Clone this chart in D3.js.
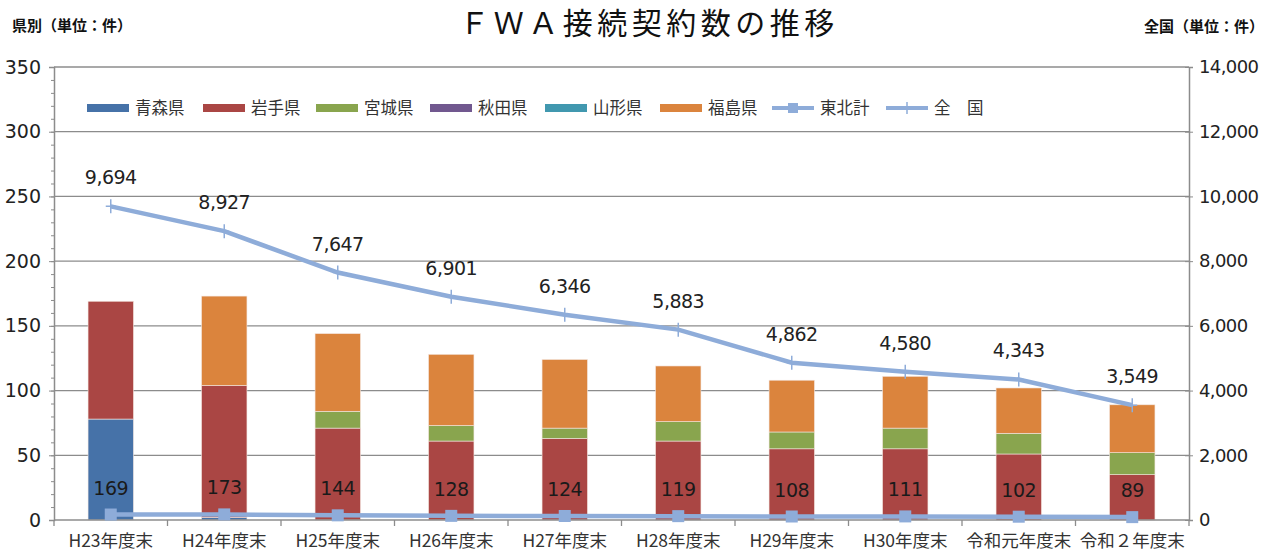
<!DOCTYPE html>
<html>
<head>
<meta charset="utf-8">
<script src="https://cdn.jsdelivr.net/npm/d3@7"></script>
<style>
  body { margin: 0; background: #fff; }
  svg { font-family: "Noto Sans CJK JP", "Noto Sans", sans-serif; }
  .tick text { fill: #222; }
</style>
</head>
<body>
<svg width="1274" height="552"></svg>
<script>
// categories and values
var years = ["H23年度末", "H24年度末", "H25年度末", "H26年度末", "H27年度末",
             "H28年度末", "H29年度末", "H30年度末", "令和元年度末", "令和２年度末"];
var aomori    = [78, 2, 0, 0, 0, 0, 0, 0, 0, 0];
var iwate     = [91, 102, 71, 61, 63, 61, 55, 55, 51, 35];
var miyagi    = [0, 0, 13, 12, 8, 15, 13, 16, 16, 17];
var akita     = [0, 0, 0, 0, 0, 0, 0, 0, 0, 0];
var yamagata  = [0, 0, 0, 0, 0, 0, 0, 0, 0, 0];
var fukushima = [0, 69, 60, 55, 53, 43, 40, 40, 35, 37];
var tohoku    = [169, 173, 144, 128, 124, 119, 108, 111, 102, 89];
var zenkoku   = [9694, 8927, 7647, 6901, 6346, 5883, 4862, 4580, 4343, 3549];
var leftTicks = [0, 50, 100, 150, 200, 250, 300, 350];
var rightTicks = [0, 2000, 4000, 6000, 8000, 10000, 12000, 14000];

var prefs = [
  {key: "青森県", vals: aomori,    color: "#4672a8"},
  {key: "岩手県", vals: iwate,     color: "#aa4644"},
  {key: "宮城県", vals: miyagi,    color: "#89a54e"},
  {key: "秋田県", vals: akita,     color: "#71588f"},
  {key: "山形県", vals: yamagata,  color: "#4198af"},
  {key: "福島県", vals: fukushima, color: "#db843d"}
];
var lineColor = "#8eacd9";

var svg = d3.select("svg");
var plotL = 54, plotR = 1189, plotT = 67, plotB = 520;

// build rows for the stack
var rows = years.map(function(y, i) {
  var r = {year: y};
  prefs.forEach(function(p) { r[p.key] = p.vals[i]; });
  return r;
});
var stack = d3.stack().keys(prefs.map(function(p) { return p.key; }))(rows);

var x = d3.scaleBand().domain(years).range([plotL, plotR]).paddingInner(0.6).paddingOuter(0.3);
var yL = d3.scaleLinear().domain([0, 350]).range([plotB, plotT]);
var yR = d3.scaleLinear().domain([0, 14000]).range([plotB, plotT]);
var cx = function(i) { return x(years[i]) + x.bandwidth() / 2; };

// grid lines
svg.append("g").selectAll("line")
  .data(leftTicks.slice(1))
  .enter().append("line")
  .attr("x1", plotL).attr("x2", plotR)
  .attr("y1", function(d) { return yL(d); })
  .attr("y2", function(d) { return yL(d); })
  .attr("stroke", "#8c8c8c").attr("stroke-width", 1.3);

// stacked bars
svg.append("g").selectAll("g")
  .data(stack)
  .enter().append("g")
  .attr("fill", function(d, i) { return prefs[i].color; })
  .selectAll("rect")
  .data(function(d) { return d.filter(function(s) { return s[1] - s[0] > 0; }); })
  .enter().append("rect")
  .attr("x", function(d) { return x(d.data.year); })
  .attr("y", function(d) { return yL(d[1]); })
  .attr("width", x.bandwidth())
  .attr("height", function(d) { return yL(d[0]) - yL(d[1]); })
  .attr("stroke", "#f3e6e0").attr("stroke-width", 0.6);

// left axis with minor ticks
svg.append("g")
  .attr("transform", "translate(" + plotL + ",0)")
  .call(d3.axisLeft(yL).tickValues(d3.range(0, 351, 10)).tickSize(3).tickFormat(""))
  .call(function(g) { g.select(".domain").remove(); g.selectAll("line").attr("stroke", "#8c8c8c"); });
svg.append("g")
  .attr("transform", "translate(" + plotL + ",0)")
  .call(d3.axisLeft(yL).tickValues(leftTicks).tickSize(5).tickPadding(6))
  .call(function(g) {
    g.select(".domain").attr("stroke", "#8c8c8c").attr("stroke-width", 1.5);
    g.selectAll("line").attr("stroke", "#8c8c8c");
    g.selectAll("text").attr("font-size", 19).attr("font-family", "DejaVu Sans").attr("fill", "#333").attr("dx", -2);
  });

// right axis
svg.append("g")
  .attr("transform", "translate(" + plotR + ",0)")
  .call(d3.axisRight(yR).tickValues(rightTicks).tickSize(4).tickPadding(6).tickFormat(d3.format(",")))
  .call(function(g) {
    g.select(".domain").attr("stroke", "#8c8c8c").attr("stroke-width", 1.5);
    g.selectAll("line").attr("stroke", "#8c8c8c").attr("x1", -4);
    g.selectAll("text").attr("font-size", 18).attr("font-family", "DejaVu Sans").attr("fill", "#333").attr("letter-spacing", -0.6);
  });

// bottom axis: ticks at category boundaries
svg.append("line")
  .attr("x1", plotL).attr("x2", plotR).attr("y1", plotB).attr("y2", plotB)
  .attr("stroke", "#8c8c8c").attr("stroke-width", 1.5);
svg.append("g").selectAll("line")
  .data(d3.range(years.length + 1))
  .enter().append("line")
  .attr("x1", function(i) { return x.range()[0] + i * x.step(); })
  .attr("x2", function(i) { return x.range()[0] + i * x.step(); })
  .attr("y1", plotB).attr("y2", plotB + 6)
  .attr("stroke", "#8c8c8c").attr("stroke-width", 1.3);
svg.append("g").selectAll("text")
  .data(years)
  .enter().append("text")
  .attr("x", function(d, i) { return cx(i); })
  .attr("y", 547)
  .attr("text-anchor", "middle")
  .attr("font-size", 17.5)
  .attr("fill", "#333")
  .text(function(d) { return d; });

// lines
var line = d3.line().x(function(d, i) { return cx(i); }).y(function(d) { return yR(d); });

svg.append("path").datum(zenkoku)
  .attr("d", line).attr("fill", "none")
  .attr("stroke", lineColor).attr("stroke-width", 4.5);
svg.append("g").selectAll("path")
  .data(zenkoku)
  .enter().append("path")
  .attr("d", function(d, i) {
    var px = cx(i), py = yR(d);
    return "M" + (px - 5) + "," + py + "H" + (px + 5) + "M" + px + "," + (py - 7) + "V" + (py + 7);
  })
  .attr("stroke", lineColor).attr("stroke-width", 1.5);
svg.append("g").selectAll("text")
  .data(zenkoku)
  .enter().append("text")
  .attr("x", function(d, i) { return cx(i); })
  .attr("y", function(d) { return yR(d) - 22; })
  .attr("text-anchor", "middle")
  .attr("font-size", 19).attr("font-family", "DejaVu Sans").attr("letter-spacing", -0.5)
  .attr("fill", "#222")
  .text(function(d) { return d3.format(",")(d); });

svg.append("path").datum(tohoku)
  .attr("d", line).attr("fill", "none")
  .attr("stroke", lineColor).attr("stroke-width", 4.5);
svg.append("g").selectAll("rect")
  .data(tohoku)
  .enter().append("rect")
  .attr("x", function(d, i) { return cx(i) - 6; })
  .attr("y", function(d) { return yR(d) - 6; })
  .attr("width", 12).attr("height", 12)
  .attr("fill", lineColor);
svg.append("g").selectAll("text")
  .data(tohoku)
  .enter().append("text")
  .attr("x", function(d, i) { return cx(i); })
  .attr("y", function(d) { return yR(d) - 20; })
  .attr("text-anchor", "middle")
  .attr("font-size", 19).attr("font-family", "DejaVu Sans").attr("letter-spacing", -0.5)
  .attr("fill", "#1a1a1a")
  .text(function(d) { return d; });

// legend
var legendItems = prefs.map(function(p) { return {name: p.key, color: p.color, type: "bar"}; })
  .concat([{name: "東北計", color: lineColor, type: "square"}, {name: "全　国", color: lineColor, type: "plus"}]);
var legendX = [87, 203, 316, 430, 545, 660, 772, 886];
var legend = svg.append("g").selectAll("g")
  .data(legendItems)
  .enter().append("g")
  .attr("transform", function(d, i) { return "translate(" + legendX[i] + ",108)"; });
legend.append("rect")
  .attr("y", function(d) { return d.type === "bar" ? -4 : -2; })
  .attr("width", 42)
  .attr("height", function(d) { return d.type === "bar" ? 8 : 4; })
  .attr("fill", function(d) { return d.color; });
legend.filter(function(d) { return d.type === "square"; }).append("rect")
  .attr("x", 16).attr("y", -5).attr("width", 10).attr("height", 10).attr("fill", lineColor);
legend.filter(function(d) { return d.type === "plus"; }).append("path")
  .attr("d", "M21,-6V6").attr("stroke", lineColor).attr("stroke-width", 1.5);
legend.append("text")
  .attr("x", 48).attr("y", 6)
  .attr("font-size", 16.5).attr("fill", "#333")
  .text(function(d) { return d.name; });

// titles
svg.append("text")
  .attr("x", 649).attr("y", 34)
  .attr("text-anchor", "middle")
  .attr("font-size", 30).attr("letter-spacing", 4.5).attr("fill", "#111")
  .text("ＦＷＡ接続契約数の推移");
svg.append("text")
  .attr("x", 12).attr("y", 31)
  .attr("font-size", 15).attr("font-weight", "bold").attr("fill", "#111")
  .text("県別（単位：件）");
svg.append("text")
  .attr("x", 1264).attr("y", 32)
  .attr("text-anchor", "end")
  .attr("font-size", 15).attr("font-weight", "bold").attr("fill", "#111")
  .text("全国（単位：件）");
</script>
</body>
</html>
